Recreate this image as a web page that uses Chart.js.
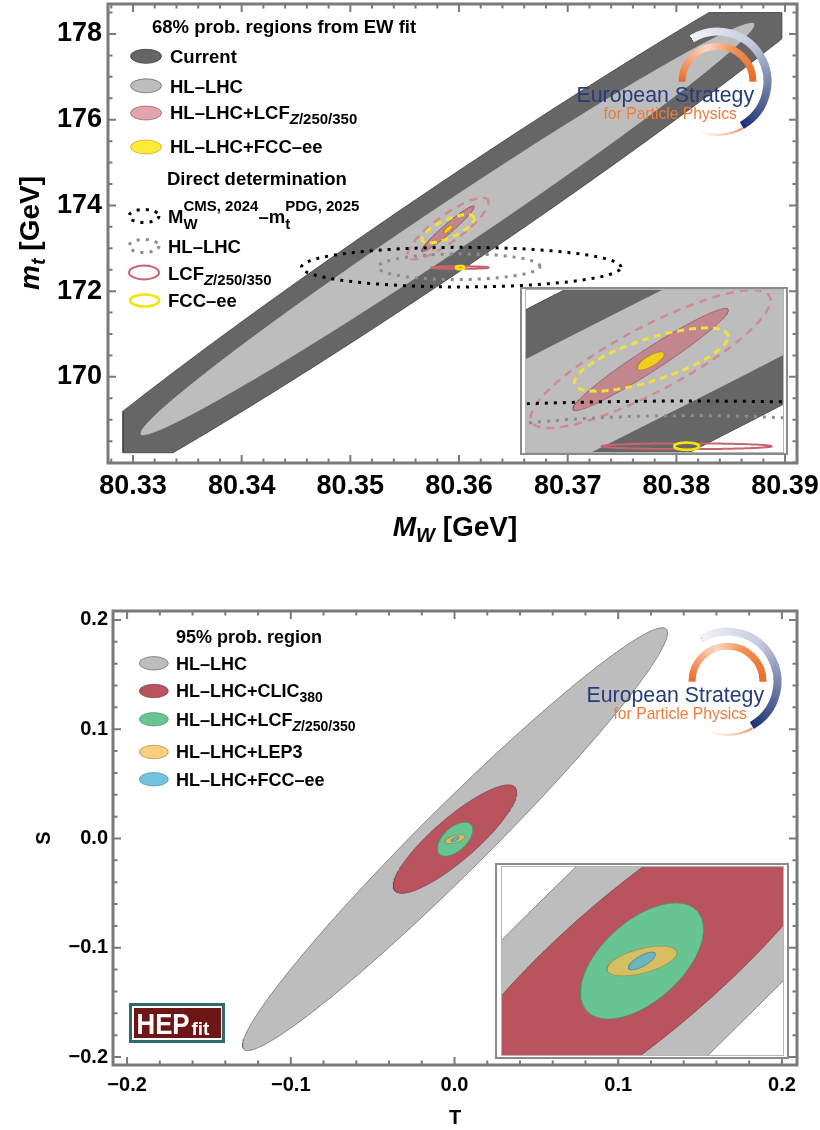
<!DOCTYPE html>
<html>
<head>
<meta charset="utf-8">
<script src="https://cdn.jsdelivr.net/npm/chart.js@4/dist/chart.umd.min.js"></script>
<style>
  body { margin: 0; background: #fff; width: 820px; height: 1130px; position: relative; overflow: hidden; }
  canvas { position: absolute; }
</style>
</head>
<body>
<canvas id="mwmt" width="820" height="560" style="left:0;top:0"></canvas>
<canvas id="mwmtZoom" width="268" height="168" style="left:520px;top:287px"></canvas>
<canvas id="st" width="820" height="555" style="left:0;top:575px"></canvas>
<canvas id="stZoom" width="294" height="196" style="left:495px;top:863px"></canvas>
<script>
// ---------- top panel: M_W vs m_t ----------
// regions are ellipses: [centre MW, centre mt, half-range MW, half-range mt, correlation]
const fitCurrent = [80.35898, 173.46, 0.0414, 7.13, 0.9862];
const currentBox = [80.32908, 80.38971, 168.23, 178.50]; // MW min/max, mt min/max of that contour
const fitHLLHC = [80.35893, 173.450, 0.02829, 4.82, 0.9904];
const fitLCF = [80.35898, 173.455, 0.00242, 0.533, 0.965];
const fitLCFwide = [80.35898, 173.460, 0.00373, 0.72, 0.85];
const fitFCC = [80.35898, 173.440, 0.00042, 0.094, 0.75];
const fitFCCwide = [80.35900, 173.455, 0.00239, 0.33, 0.72];
const directNow = [80.3602, 172.56, 0.0147, 0.462, 0];
const directHLLHC = [80.3600, 172.57, 0.00745, 0.30, 0.03];
const directLCF = [80.3601, 172.55, 0.00265, 0.03, 0];
const directFCC = [80.3601, 172.55, 0.00039, 0.038, 0];
const mwTicks = [80.33, 80.34, 80.35, 80.36, 80.37, 80.38, 80.39];
const mtTicks = [170, 172, 174, 176, 178];

// ---------- bottom panel: T vs S (95% regions) ----------
const stNames = ['HL–LHC', 'HL–LHC+CLIC', 'HL–LHC+LCF', 'HL–LHC+LEP3', 'HL–LHC+FCC–ee'];
const stCentreT = [0.0003, 0.0003, 0.0003, 0.0003, 0.0003];
const stCentreS = [-0.0006, -0.0006, -0.0006, -0.0006, -0.0006];
const stRangeT = [0.1298, 0.0377, 0.0109, 0.0062, 0.0024];
const stRangeS = [0.1935, 0.0496, 0.0156, 0.0040, 0.0024];
const stCorr = [0.9755, 0.862, 0.55, 0.55, 0.75];
const tTicks = [-0.2, -0.1, 0, 0.1, 0.2];
const sTicks = [-0.2, -0.1, 0, 0.1, 0.2];

const FAM = "'Liberation Sans', Arial, sans-serif";
Chart.defaults.font.family = FAM;
Chart.defaults.color = '#000';
const D = Math.PI / 180;

const S = {
  current: { fill: '#666666', line: '#3e3e3e', width: 0.8 },
  hllhc: { fill: '#bdbdbd', line: '#5e5e5e', width: 0.7 },
  lcf: { fill: 'rgba(200,90,100,0.55)', line: 'rgba(130,60,70,0.8)', width: 0.7 },
  lcfWide: { line: '#d08a90', width: 2.5, dash: [8, 6] },
  fcc: { fill: 'rgba(255,228,0,0.78)', line: 'rgba(150,130,0,0.8)', width: 0.6 },
  fccWide: { line: '#f0e03a', width: 3, dash: [7, 5] },
  dirNow: { line: '#000000', width: 3, dash: [3, 6] },
  dirHL: { line: '#8c8c8c', width: 3, dash: [3, 6] },
  dirLCF: { line: '#c8646e', width: 2, dash: [] },
  dirFCC: { line: '#f0e600', width: 2.5, dash: [] }
};
const stStyles = [
  { fill: '#bdbdbd', line: '#666666', width: 0.7 },
  { fill: '#b9545e', line: '#7a3a40', width: 0.7 },
  { fill: '#69c493', line: '#4f8f6a', width: 0.7 },
  { fill: 'rgba(250,190,80,0.75)', line: '#9a8a50', width: 0.7 },
  { fill: 'rgba(80,180,215,0.8)', line: '#4a8a9a', width: 0.7 }
];

function ellipse(e, n = 240) {
  const [cx, cy, ax, ay, r] = e;
  const q = Math.sqrt(1 - r * r);
  const pts = [];
  for (let i = 0; i <= n; i++) {
    const t = 2 * Math.PI * i / n;
    pts.push({ x: cx + ax * Math.cos(t), y: cy + ay * (r * Math.cos(t) + q * Math.sin(t)) });
  }
  return pts;
}

// Sutherland-Hodgman clip of a closed outline to [x0,x1] x [y0,y1]
function clipToBox(pts, box) {
  const [x0, x1, y0, y1] = box;
  const cutX = X => (a, b) => ({ x: X, y: a.y + (X - a.x) / (b.x - a.x) * (b.y - a.y) });
  const cutY = Y => (a, b) => ({ x: a.x + (Y - a.y) / (b.y - a.y) * (b.x - a.x), y: Y });
  const edges = [
    [p => p.x >= x0, cutX(x0)], [p => p.x <= x1, cutX(x1)],
    [p => p.y >= y0, cutY(y0)], [p => p.y <= y1, cutY(y1)]
  ];
  let out = pts.slice(0, -1);
  for (const [inside, cut] of edges) {
    const inp = out;
    out = [];
    for (let i = 0; i < inp.length; i++) {
      const cur = inp[i], prev = inp[(i + inp.length - 1) % inp.length];
      if (inside(cur)) {
        if (!inside(prev)) out.push(cut(prev, cur));
        out.push(cur);
      } else if (inside(prev)) {
        out.push(cut(prev, cur));
      }
    }
  }
  out.push(out[0]);
  return out;
}

function dataset(pts, st, order) {
  return {
    data: pts, order, showLine: true, pointRadius: 0, pointHitRadius: 0, tension: 0,
    borderColor: st.line, borderWidth: st.width, borderDash: st.dash || [],
    borderCapStyle: 'butt', borderJoinStyle: 'round',
    backgroundColor: st.fill || 'rgba(0,0,0,0)', fill: st.fill ? 'shape' : false
  };
}

function topSets() {
  const list = [
    [clipToBox(ellipse(fitCurrent, 720), currentBox), S.current],
    [ellipse(fitHLLHC), S.hllhc], [ellipse(fitLCF), S.lcf],
    [ellipse(fitLCFwide), S.lcfWide], [ellipse(fitFCCwide), S.fccWide], [ellipse(fitFCC), S.fcc],
    [ellipse(directNow), S.dirNow], [ellipse(directHLLHC), S.dirHL],
    [ellipse(directLCF), S.dirLCF], [ellipse(directFCC), S.dirFCC]
  ];
  return list.map(([pts, st], i) => dataset(pts, st, list.length - i));
}

function stSets() {
  return stNames.map((name, i) => dataset(
    ellipse([stCentreT[i], stCentreS[i], stRangeT[i], stRangeS[i], stCorr[i]]),
    stStyles[i], stNames.length - i));
}

// ---------- drawing helpers ----------
function font(size, italic, normal) {
  return (italic ? 'italic ' : '') + (normal ? '' : 'bold ') + size + 'px ' + FAM;
}
// parts: [text, size, dy, italic, noAdvance]
function richWidth(ctx, parts) {
  let w = 0;
  for (const p of parts) { ctx.font = font(p[1], p[3]); if (!p[4]) w += ctx.measureText(p[0]).width; }
  return w;
}
function drawRich(ctx, parts, x, y, align) {
  if (align === 'center') x -= richWidth(ctx, parts) / 2;
  ctx.textAlign = 'left';
  ctx.textBaseline = 'alphabetic';
  ctx.fillStyle = '#000';
  for (const p of parts) {
    ctx.font = font(p[1], p[3]);
    ctx.fillText(p[0], x, y + (p[2] || 0));
    if (!p[4]) x += ctx.measureText(p[0]).width;
  }
}
function swatch(ctx, st, cx, cy, rx, ry) {
  ctx.save();
  ctx.beginPath();
  ctx.ellipse(cx, cy, rx, ry, 0, 0, 2 * Math.PI);
  if (st.fill) { ctx.fillStyle = st.fill; ctx.fill(); }
  ctx.strokeStyle = st.line;
  ctx.lineWidth = st.width;
  ctx.lineCap = 'butt';
  ctx.setLineDash(st.dash || []);
  ctx.stroke();
  ctx.restore();
}

function drawLogo(ctx, cx, cy) {
  ctx.save();
  let g = ctx.createConicGradient(-121 * D, cx, cy);
  g.addColorStop(0, '#f3f4f8');
  g.addColorStop(0.2, '#c3cadc');
  g.addColorStop(0.5, '#1f3573');
  g.addColorStop(1, '#1f3573');
  ctx.strokeStyle = g;
  ctx.lineWidth = 8;
  ctx.beginPath(); ctx.arc(cx, cy, 50, -121 * D, 61 * D); ctx.stroke();

  g = ctx.createConicGradient(Math.PI, cx, cy);
  g.addColorStop(0, '#ec6a26');
  g.addColorStop(0.2, '#fbd8c4');
  g.addColorStop(0.32, '#f29155');
  g.addColorStop(0.5, '#ec6a26');
  g.addColorStop(1, '#ec6a26');
  ctx.strokeStyle = g;
  ctx.lineWidth = 7;
  ctx.beginPath(); ctx.arc(cx, cy, 35.5, Math.PI, 2 * Math.PI); ctx.stroke();

  g = ctx.createConicGradient(60 * D, cx, cy);
  g.addColorStop(0, '#ee8a55');
  g.addColorStop(0.13, 'rgba(250,210,190,0.2)');
  g.addColorStop(1, 'rgba(250,210,190,0.2)');
  ctx.strokeStyle = g;
  ctx.lineWidth = 2.2;
  ctx.beginPath(); ctx.arc(cx, cy, 53, 62 * D, 107 * D); ctx.stroke();

  ctx.textAlign = 'left';
  ctx.textBaseline = 'alphabetic';
  ctx.fillStyle = '#253b7c';
  ctx.font = font(21.3, false, true);
  ctx.fillText('European Strategy', cx - 141, cy + 20);
  ctx.fillStyle = '#ef7b3b';
  ctx.font = font(15.7, false, true);
  ctx.fillText('for Particle Physics', cx - 114, cy + 37);
  ctx.restore();
}

function drawHEPfit(ctx, x, y) {
  ctx.save();
  ctx.fillStyle = '#fff';
  ctx.fillRect(x, y, 96, 40);
  ctx.strokeStyle = '#2f6b68';
  ctx.lineWidth = 3;
  ctx.strokeRect(x + 1.5, y + 1.5, 93, 37);
  ctx.fillStyle = '#6e1616';
  ctx.fillRect(x + 5, y + 5, 87, 30);
  ctx.fillStyle = '#fff';
  ctx.textBaseline = 'alphabetic';
  ctx.textAlign = 'left';
  ctx.font = font(30);
  ctx.save();
  ctx.translate(x + 7.5, y + 30.5);
  ctx.scale(0.86, 1);
  ctx.fillText('HEP', 0, 0);
  ctx.restore();
  ctx.font = font(19);
  ctx.fillText('fit', x + 62.5, y + 32);
  ctx.restore();
}

// frame with inward ticks on all four sides
const framePlugin = {
  id: 'frame',
  afterDraw(chart, args, o) {
    const { ctx, chartArea: a, scales: { x, y } } = chart;
    ctx.save();
    ctx.strokeStyle = '#7a7a7a';
    ctx.lineWidth = 2;
    const tx = (v, len) => {
      const p = x.getPixelForValue(v);
      ctx.beginPath();
      ctx.moveTo(p, a.bottom); ctx.lineTo(p, a.bottom - len);
      ctx.moveTo(p, a.top); ctx.lineTo(p, a.top + len);
      ctx.stroke();
    };
    const ty = (v, len) => {
      const p = y.getPixelForValue(v);
      ctx.beginPath();
      ctx.moveTo(a.left, p); ctx.lineTo(a.left + len, p);
      ctx.moveTo(a.right, p); ctx.lineTo(a.right - len, p);
      ctx.stroke();
    };
    o.xMinor.forEach(v => tx(v, 4.5));
    o.xMajor.forEach(v => tx(v, 8));
    o.yMinor.forEach(v => ty(v, 4.5));
    o.yMajor.forEach(v => ty(v, 8));
    ctx.lineWidth = 3;
    ctx.strokeRect(a.left, a.top, a.width, a.height);
    ctx.restore();
    if (o.extra) o.extra(ctx, chart);
  }
};

const insetPlugin = {
  id: 'inset',
  beforeDraw(chart) {
    const { ctx, width, height } = chart;
    ctx.save();
    ctx.fillStyle = '#fff';
    ctx.fillRect(0, 0, width, height);
    ctx.restore();
  },
  afterDraw(chart) {
    const { ctx, width, height, chartArea: a } = chart;
    ctx.save();
    ctx.strokeStyle = '#b5b5b5';
    ctx.lineWidth = 1;
    ctx.strokeRect(a.left - 0.5, a.top - 0.5, a.width + 1, a.height + 1);
    ctx.strokeStyle = '#8a8a8a';
    ctx.lineWidth = 2;
    ctx.strokeRect(1, 1, width - 2, height - 2);
    ctx.restore();
  }
};

function steps(from, to, step, skip) {
  const out = [];
  for (let v = from; v <= to + step / 10; v += step) {
    const r = Math.round(v / step) * step;
    if (!skip.some(m => Math.abs(m - r) < step / 10)) out.push(r);
  }
  return out;
}

function axis(min, max, ticks, fmt, size, pad, fit) {
  return {
    type: 'linear', min, max,
    afterBuildTicks: s => { s.ticks = ticks.map(v => ({ value: v })); },
    afterFit: s => {
      fit(s);
      s.paddingTop = 0; s.paddingBottom = 0; s.paddingLeft = 0; s.paddingRight = 0;
    },
    ticks: { autoSkip: false, maxRotation: 0, padding: pad, color: '#000',
      font: { size, weight: 'bold' }, callback: fmt },
    grid: { display: false, drawTicks: false },
    border: { display: false }
  };
}

const base = { responsive: false, animation: false, events: [], devicePixelRatio: 1 };
const stFmt = v => v === 0 ? '0.0' : (v < 0 ? '−' + Math.abs(v).toFixed(1) : v.toFixed(1));

// ---------- top chart ----------
new Chart(document.getElementById('mwmt'), {
  type: 'scatter',
  data: { datasets: topSets() },
  options: {
    ...base,
    layout: { padding: { left: 0, right: 23, top: 4, bottom: 0 } },
    scales: {
      x: axis(80.3277, 80.3911, mwTicks, v => v.toFixed(2), 27, 7, s => { s.height = 97; }),
      y: axis(167.99, 178.70, mtTicks, v => String(v), 27, 6, s => { s.width = 108; })
    },
    plugins: {
      legend: { display: false }, tooltip: { enabled: false },
      frame: {
        xMajor: mwTicks, xMinor: steps(80.328, 80.390, 0.002, mwTicks),
        yMajor: mtTicks, yMinor: steps(168, 178.5, 0.5, mtTicks),
        extra(ctx) {
          drawLogo(ctx, 717.5, 81.7);
          drawRich(ctx, [['68% prob. regions from EW fit', 18.5]], 152, 33.3);
          swatch(ctx, S.current, 146, 56.3, 15.5, 7);
          drawRich(ctx, [['Current', 18.5]], 170, 63.3);
          swatch(ctx, S.hllhc, 146, 85.8, 15.5, 7);
          drawRich(ctx, [['HL–LHC', 18.5]], 170, 92.7);
          swatch(ctx, S.lcf, 146, 113, 15.5, 7);
          drawRich(ctx, [['HL–LHC+LCF', 18.5], ['Z', 15, 5, true], ['/250/350', 15, 5]], 170, 119.3);
          swatch(ctx, S.fcc, 146, 147, 15.5, 7);
          drawRich(ctx, [['HL–LHC+FCC–ee', 18.5]], 170, 153.3);
          drawRich(ctx, [['Direct determination', 18.5]], 167, 185);
          swatch(ctx, S.dirNow, 144, 216, 15, 6.5);
          drawRich(ctx, [['M', 18.5], ['W', 15, 6, false, true], ['CMS, 2024', 15, -12],
            ['–m', 18.5], ['t', 15, 6, false, true], ['PDG, 2025', 15, -12]], 168, 222.7);
          swatch(ctx, S.dirHL, 144, 246, 15, 6.5);
          drawRich(ctx, [['HL–LHC', 18.5]], 168, 253.3);
          swatch(ctx, S.dirLCF, 144, 272.5, 15, 7);
          drawRich(ctx, [['LCF', 18.5], ['Z', 15, 5, true], ['/250/350', 15, 5]], 168, 280);
          swatch(ctx, S.dirFCC, 144.7, 300.5, 14.5, 6);
          drawRich(ctx, [['FCC–ee', 18.5]], 168, 307.3);
          // axis titles
          drawRich(ctx, [['M', 28, 0, true], ['W', 20, 6, true], [' [GeV]', 28]], 455, 536, 'center');
          ctx.save();
          ctx.translate(39, 233);
          ctx.rotate(-Math.PI / 2);
          drawRich(ctx, [['m', 28, 0, true], ['t', 20, 6, true], [' [GeV]', 28]], 0, 0, 'center');
          ctx.restore();
        }
      }
    }
  },
  plugins: [framePlugin]
});

new Chart(document.getElementById('mwmtZoom'), {
  type: 'scatter',
  data: { datasets: topSets() },
  options: {
    ...base,
    layout: { padding: { left: 6, right: 5, top: 3, bottom: 3 } },
    scales: {
      x: { type: 'linear', min: 80.3551, max: 80.3631, display: false },
      y: { type: 'linear', min: 172.49, max: 174.18, display: false }
    },
    plugins: { legend: { display: false }, tooltip: { enabled: false } }
  },
  plugins: [insetPlugin]
});

// ---------- bottom chart ----------
new Chart(document.getElementById('st'), {
  type: 'scatter',
  data: { datasets: stSets() },
  options: {
    ...base,
    layout: { padding: { left: 0, right: 23, top: 36, bottom: 0 } },
    scales: {
      x: axis(-0.2086, 0.2092, tTicks, stFmt, 20, 8, s => { s.height = 65; }),
      y: axis(-0.2073, 0.2082, sTicks, stFmt, 20, 5, s => { s.width = 113; })
    },
    plugins: {
      legend: { display: false }, tooltip: { enabled: false },
      frame: {
        xMajor: tTicks, xMinor: steps(-0.2, 0.2, 0.02, tTicks),
        yMajor: sTicks, yMinor: steps(-0.2, 0.2, 0.02, sTicks),
        extra(ctx) {
          drawLogo(ctx, 727.5, 106.7);
          drawHEPfit(ctx, 129, 428);
          drawRich(ctx, [['95% prob. region', 18]], 176, 68.3);
          const rows = [
            [['HL–LHC', 18]],
            [['HL–LHC+CLIC', 18], ['380', 14, 5]],
            [['HL–LHC+LCF', 18], ['Z', 14, 5, true], ['/250/350', 14, 5]],
            [['HL–LHC+LEP3', 18]],
            [['HL–LHC+FCC–ee', 18]]
          ];
          const sy = [88.3, 116, 144.3, 177, 204.3];
          const by = [95, 122.3, 151, 183.3, 210.7];
          rows.forEach((r, i) => {
            swatch(ctx, stStyles[i], 153.8, sy[i], 14.5, 6.7);
            drawRich(ctx, r, 176, by[i]);
          });
          drawRich(ctx, [['T', 20]], 455, 549, 'center');
          ctx.save();
          ctx.translate(50, 263);
          ctx.rotate(-Math.PI / 2);
          drawRich(ctx, [['S', 20]], 0, 0, 'center');
          ctx.restore();
        }
      }
    }
  },
  plugins: [framePlugin]
});

new Chart(document.getElementById('stZoom'), {
  type: 'scatter',
  data: { datasets: stSets() },
  options: {
    ...base,
    layout: { padding: { left: 7, right: 6, top: 4, bottom: 4 } },
    scales: {
      x: { type: 'linear', min: -0.0245, max: 0.0253, display: false },
      y: { type: 'linear', min: -0.0259, max: 0.0247, display: false }
    },
    plugins: { legend: { display: false }, tooltip: { enabled: false } }
  },
  plugins: [insetPlugin]
});
</script>
</body>
</html>
